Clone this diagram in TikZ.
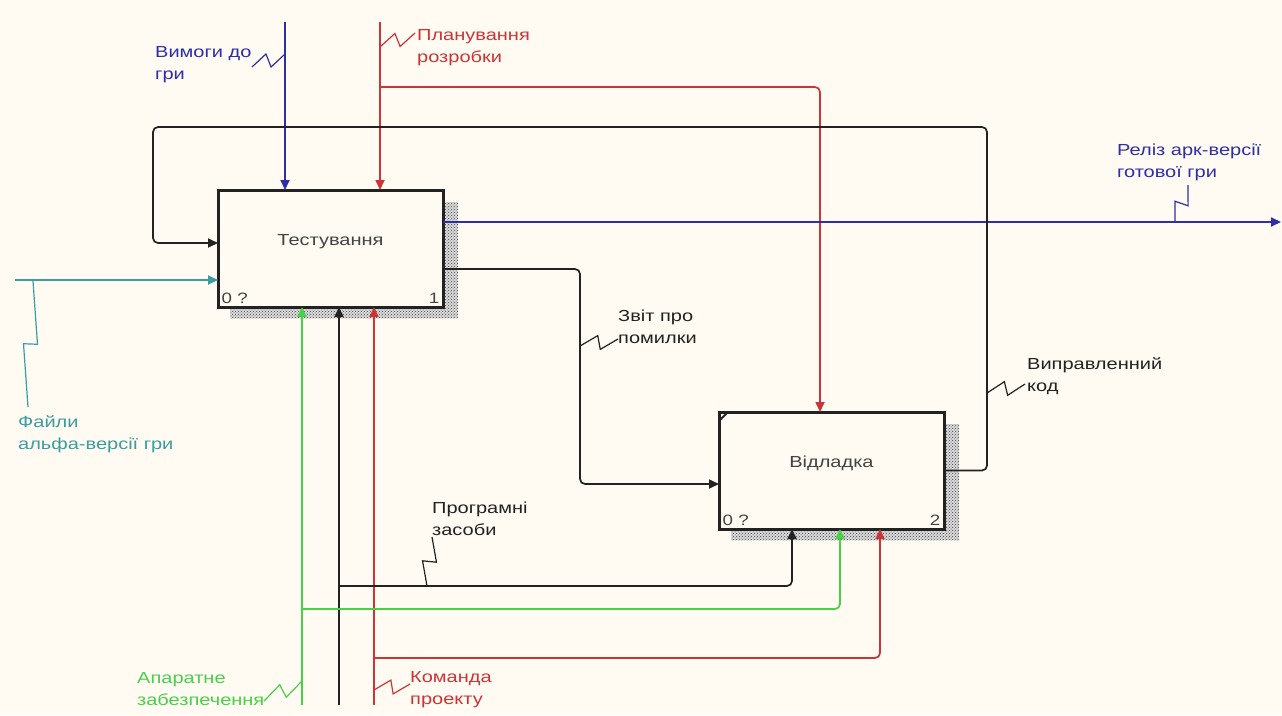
\documentclass[tikz,border=0pt]{standalone}
\usepackage{fontspec}
\setmainfont{Liberation Sans}[FakeStretch=1.25]
\definecolor{ink}{HTML}{222222}
\definecolor{paper}{HTML}{FFFAF2}
\definecolor{ctrlblue}{HTML}{2E2EA8}
\definecolor{ctrlred}{HTML}{CC3535}
\definecolor{inteal}{HTML}{3A9E9E}
\definecolor{mechgreen}{HTML}{48D048}
\usepackage{tikz}
\usetikzlibrary{arrows.meta,positioning,calc,backgrounds,patterns}
\tikzset{
  func_box/.style={draw=ink,fill=paper,line width=3pt,outer sep=0pt,
    minimum width=225pt,minimum height=117pt,text depth=17pt,font=\fontsize{16}{22}\selectfont\color{ink!85}},
  func_shadow/.style={pattern=crosshatch dots,pattern color=black!75},
  box_num/.style={inner sep=3.5pt,font=\fontsize{15}{17}\selectfont\color{ink!85}},
  lbl/.style={inner sep=0pt,anchor=north west,align=left,font=\fontsize{16}{22}\selectfont},
  arr/.style={-{Triangle[length=10pt,width=9pt]},line width=1.7pt,rounded corners=5pt},
  zig/.style={line width=1.2pt},
}
\newcommand{\lblzig}[3]{\draw[zig,#1] (#2) -- ($(#2)!0.5!(#3)!7pt!90:(#3)$) -- ($(#2)!0.5!(#3)!7pt!-90:(#3)$) -- (#3);}

\begin{document}
\begin{tikzpicture}[x=1pt,y=-1pt,node distance=105pt and 276pt]
    \useasboundingbox (0,0) rectangle (1282,715);
    \node[func_box] (test) at (330.5,248.5) {Тестування};
    \node[func_box,below right=of test] (debug) {Відладка};
    \node[box_num,anchor=south west] (test_id) at (test.south west) {0 ?};
    \node[box_num,anchor=south east] (test_no) at (test.south east) {1};
    \node[box_num,anchor=south west] (debug_id) at (debug.south west) {0 ?};
    \node[box_num,anchor=south east] (debug_no) at (debug.south east) {2};
    \draw[ink,line width=1.8pt] ([yshift=-9pt]debug.north west) -- ([xshift=9pt]debug.north west);

    \begin{scope}[on background layer]
      \fill[paper] (0,0) rectangle (1282,715);
      \fill[gray!30] ([shift={(12pt,-12pt)}]test.north west) rectangle ([shift={(15pt,-11pt)}]test.south east);
      \fill[func_shadow] ([shift={(12pt,-12pt)}]test.north west) rectangle ([shift={(15pt,-11pt)}]test.south east);
      \fill[gray!30] ([shift={(12pt,-12pt)}]debug.north west) rectangle ([shift={(15pt,-11pt)}]debug.south east);
      \fill[func_shadow] ([shift={(12pt,-12pt)}]debug.north west) rectangle ([shift={(15pt,-11pt)}]debug.south east);
    \end{scope}

    \coordinate (req_in) at (285,22);
    \coordinate (plan_in) at (380,22);
    \coordinate (plan_br) at (380,87);
    \coordinate (files_in) at (15,280);
    \coordinate (rel_out) at (1281,222);
    \coordinate (bug_mid) at (580,380);
    \coordinate (fix_up) at (987,127);
    \coordinate (fix_left) at (153,243);
    \coordinate (hw_in) at (302,705);
    \coordinate (sw_in) at (339,705);
    \coordinate (team_in) at (374,705);
    \coordinate (hw_br) at (302,609);
    \coordinate (sw_br) at (339,586);
    \coordinate (team_br) at (374,658);

    \draw[arr,ctrlblue](req_in)--(req_in |- test.north);
    \draw[arr,ctrlred](plan_in)--(plan_in |- test.north);
    \draw[arr,ctrlred](plan_br)-|([xshift=-11.5pt]debug.north);
    \draw[arr,inteal](files_in)--(files_in -| test.west);
    \draw[arr,ctrlblue](test.east |- rel_out)--(rel_out);
    \draw[arr,ink]([yshift=-20.5pt]test.east)-|(bug_mid)|-([yshift=-13.5pt]debug.west);
    \draw[arr,ink](debug.east)-|(fix_up)-|(fix_left)--(fix_left -| test.west);
    \draw[arr,mechgreen](hw_in)--(hw_in |- test.south);
    \draw[arr,ink](sw_in)--(sw_in |- test.south);
    \draw[arr,ctrlred](team_in)--(team_in |- test.south);
    \draw[arr,mechgreen](hw_br)-|([xshift=8.5pt]debug.south);
    \draw[arr,ink](sw_br)-|([xshift=-39.5pt]debug.south);
    \draw[arr,ctrlred](team_br)-|([xshift=48.5pt]debug.south);

    \node[lbl,text=ctrlblue] (req_lbl) at (155,46) {Вимоги до\\гри};
    \node[lbl,text=ctrlred] (plan_lbl) at (417,29) {Планування\\розробки};
    \node[lbl,text=ctrlblue] (rel_lbl) at (1117,144) {Реліз арк-версії\\готової гри};
    \node[lbl,text=ink] (bug_lbl) at (618,310) {Звіт про\\помилки};
    \node[lbl,text=ink] (fix_lbl) at (1027,357) {Виправленний\\код};
    \node[lbl,text=inteal] (files_lbl) at (18,415) {Файли\\альфа-версії гри};
    \node[lbl,text=ink] (sw_lbl) at (432,502) {Програмні\\засоби};
    \node[lbl,text=mechgreen] (hw_lbl) at (137,672) {Апаратне\\забезпечення};
    \node[lbl,text=ctrlred] (team_lbl) at (410,671) {Команда\\проекту};

    \lblzig{ctrlblue}{252,67}{285,54}
    \lblzig{ctrlred}{380,47}{415,33}
    \lblzig{ctrlblue}{1175,222}{1188,185}
    \lblzig{ink}{580,346}{618,339}
    \lblzig{ink}{987,393}{1025,384}
    \lblzig{inteal}{33,281}{28,407}
    \lblzig{ink}{427,586}{432,537}
    \lblzig{mechgreen}{302,681}{264,701}
    \lblzig{ctrlred}{374,690}{410,684}
  \end{tikzpicture}
\end{document}
